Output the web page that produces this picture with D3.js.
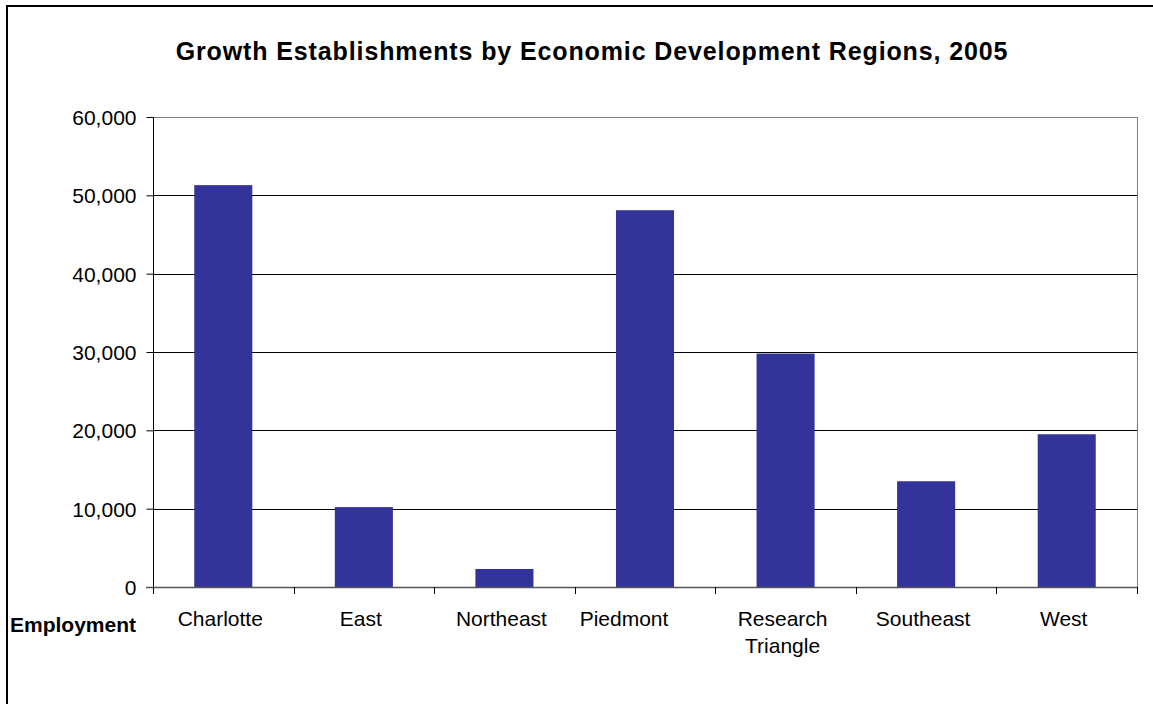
<!DOCTYPE html>
<html>
<head>
<meta charset="utf-8">
<script src="https://cdn.jsdelivr.net/npm/d3@7"></script>
<style>
  html, body { margin: 0; padding: 0; background: #fff; }
  svg { display: block; font-family: "Liberation Sans", Arial, sans-serif; }
</style>
</head>
<body>
<svg id="chart" width="1153" height="704"></svg>
<script>
// Employment at growth establishments, by economic development region (2005)
const regions = ["Charlotte", "East", "Northeast", "Piedmont", "Research Triangle", "Southeast", "West"];
const employment = [51300, 10200, 2300, 48100, 29800, 13500, 19500];
const yTickValues = [0, 10000, 20000, 30000, 40000, 50000, 60000];
const chartTitle = "Growth Establishments by Economic Development Regions, 2005";
const rowLabel = "Employment";

const svg = d3.select("#chart");
const W = 1153, H = 704;
const plot = { left: 153, right: 1137, top: 117, bottom: 587 };

// outer frame
svg.append("rect")
  .attr("x", 7).attr("y", 6)
  .attr("width", W + 10).attr("height", H + 10)
  .attr("fill", "#fff").attr("stroke", "#000").attr("stroke-width", 2);

const x = d3.scaleBand()
  .domain(regions)
  .range([plot.left, plot.right])
  .paddingInner(0.587)
  .paddingOuter(0.2935);

const y = d3.scaleLinear()
  .domain([0, 60000])
  .range([plot.bottom, plot.top]);

// title
svg.append("text")
  .attr("x", 592).attr("y", 60)
  .attr("text-anchor", "middle")
  .attr("font-size", 25).attr("font-weight", "bold")
  .attr("letter-spacing", 0.88)
  .attr("fill", "#000")
  .text(chartTitle);

// horizontal gridlines
svg.append("g")
  .selectAll("line")
  .data(yTickValues.filter(v => v > 0))
  .join("line")
  .attr("x1", plot.left).attr("x2", plot.right)
  .attr("y1", d => Math.round(y(d)) + 0.5).attr("y2", d => Math.round(y(d)) + 0.5)
  .attr("stroke", d => d === 60000 ? "#808080" : "#000")
  .attr("stroke-width", 1);

// right edge of plot area
svg.append("line")
  .attr("x1", plot.right + 0.5).attr("x2", plot.right + 0.5)
  .attr("y1", plot.top).attr("y2", plot.bottom)
  .attr("stroke", "#808080");

// bars
svg.append("g")
  .selectAll("rect")
  .data(regions.map((r, i) => ({ region: r, value: employment[i] })))
  .join("rect")
  .attr("x", d => x(d.region))
  .attr("y", d => y(d.value))
  .attr("width", x.bandwidth())
  .attr("height", d => y(0) - y(d.value))
  .attr("fill", "#333399");

// y axis
const yAxis = svg.append("g")
  .attr("transform", `translate(${plot.left + 0.5},0)`)
  .call(d3.axisLeft(y).tickValues(yTickValues).tickSize(7).tickPadding(10).tickFormat(d3.format(",")));
yAxis.select(".domain").attr("stroke", "#000").attr("d", `M0,${plot.top}V${plot.bottom}`);
yAxis.selectAll(".tick line").attr("stroke", "#000");
yAxis.selectAll(".tick text")
  .attr("font-size", 21).attr("font-family", "Liberation Sans, Arial, sans-serif")
  .attr("fill", "#000").attr("dy", "0.36em");

// x axis baseline
svg.append("line")
  .attr("x1", plot.left - 7).attr("x2", plot.right + 1)
  .attr("y1", plot.bottom + 0.5).attr("y2", plot.bottom + 0.5)
  .attr("stroke", "#555").attr("stroke-width", 1.5);

// category boundary ticks
const boundaries = d3.range(regions.length + 1).map(i => plot.left + i * x.step());
svg.append("g")
  .selectAll("line")
  .data(boundaries)
  .join("line")
  .attr("x1", d => Math.round(d) + 0.5).attr("x2", d => Math.round(d) + 0.5)
  .attr("y1", plot.bottom).attr("y2", plot.bottom + 7)
  .attr("stroke", "#000");

// category labels (long names wrap onto two lines)
const labelShift = { "Piedmont": -18 };
const labels = svg.append("g")
  .selectAll("text")
  .data(regions)
  .join("text")
  .attr("x", d => x(d) + x.bandwidth() / 2 - 3 + (labelShift[d] || 0))
  .attr("y", 626)
  .attr("text-anchor", "middle")
  .attr("font-size", 21)
  .attr("fill", "#000");
labels.each(function (d) {
  const words = d.split(" ");
  const t = d3.select(this);
  words.forEach((w, i) => {
    t.append("tspan")
      .attr("x", t.attr("x"))
      .attr("dy", i === 0 ? 0 : 27)
      .text(w);
  });
});

// row label
svg.append("text")
  .attr("x", 10).attr("y", 632)
  .attr("font-size", 21).attr("font-weight", "bold")
  .attr("fill", "#000")
  .text(rowLabel);
</script>
</body>
</html>
